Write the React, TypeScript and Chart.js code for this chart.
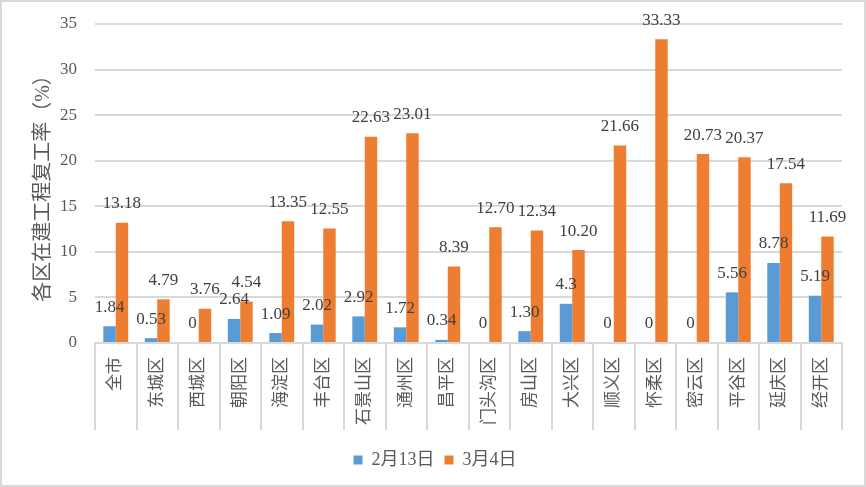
import React, { useEffect, useRef } from "react";
import { Chart, registerables } from "chart.js";

Chart.register(...registerables);

const categories = ["全市", "东城区", "西城区", "朝阳区", "海淀区", "丰台区", "石景山区", "通州区", "昌平区", "门头沟区", "房山区", "大兴区", "顺义区", "怀柔区", "密云区", "平谷区", "延庆区", "经开区"];
const seriesNames = ["2月13日", "3月4日"];
const feb13 = [1.84, 0.53, 0, 2.64, 1.09, 2.02, 2.92, 1.72, 0.34, 0, 1.3, 4.3, 0, 0, 0, 5.56, 8.78, 5.19];
const mar4 = [13.18, 4.79, 3.76, 4.54, 13.35, 12.55, 22.63, 23.01, 8.39, 12.7, 12.34, 10.2, 21.66, 33.33, 20.73, 20.37, 17.54, 11.69];
const feb13Labels = ["1.84", "0.53", "0", "2.64", "1.09", "2.02", "2.92", "1.72", "0.34", "0", "1.30", "4.3", "0", "0", "0", "5.56", "8.78", "5.19"];
const mar4Labels = ["13.18", "4.79", "3.76", "4.54", "13.35", "12.55", "22.63", "23.01", "8.39", "12.70", "12.34", "10.20", "21.66", "33.33", "20.73", "20.37", "17.54", "11.69"];
const yTitle = "各区在建工程复工率（%）";

const FONT = "'Liberation Serif', 'Noto Sans CJK SC', serif";

const bgBorder = {
  id: "bgBorder",
  beforeDraw(chart: any) {
    const { ctx, width, height } = chart;
    ctx.save();
    ctx.fillStyle = "#ffffff";
    ctx.fillRect(0, 0, width, height);
    ctx.strokeStyle = "#d9d9d9";
    ctx.lineWidth = 2;
    ctx.strokeRect(1, 1, width - 2, height - 2);
    ctx.restore();
  },
};

const dataLabels = {
  id: "dataLabelsCustom",
  afterDatasetsDraw(chart: any) {
    const { ctx } = chart;
    const labelSets = [feb13Labels, mar4Labels];
    ctx.save();
    ctx.font = `17px ${FONT}`;
    ctx.fillStyle = "#404040";
    ctx.textAlign = "center";
    ctx.textBaseline = "middle";
    chart.data.datasets.forEach((_ds: any, di: number) => {
      const meta = chart.getDatasetMeta(di);
      meta.data.forEach((bar: any, i: number) => {
        ctx.fillText(labelSets[di][i], bar.x, bar.y - 19);
      });
    });
    ctx.restore();
  },
};

export default function App() {
  const ref = useRef<HTMLCanvasElement>(null);
  useEffect(() => {
    document.body.style.margin = "0";
    const chart = new Chart(ref.current!, {
      type: "bar",
      data: {
        labels: categories,
        datasets: [
          { label: seriesNames[0], data: feb13, backgroundColor: "#5B9BD5", barPercentage: 1, categoryPercentage: 0.6 },
          { label: seriesNames[1], data: mar4, backgroundColor: "#ED7D31", barPercentage: 1, categoryPercentage: 0.6 },
        ],
      },
      options: {
        animation: false,
        responsive: false,
        maintainAspectRatio: false,
        layout: { padding: { top: 24, right: 24, left: 28, bottom: 8 } },
        plugins: {
          tooltip: { enabled: false },
          legend: {
            position: "bottom",
            labels: {
              font: { family: FONT, size: 18 },
              color: "#595959",
              boxWidth: 9,
              boxHeight: 9,
              padding: 10,
            },
          },
        },
        scales: {
          x: {
            grid: {
              display: true,
              offset: true,
              drawOnChartArea: false,
              drawTicks: true,
              tickLength: 87,
              color: "#d9d9d9",
              lineWidth: 2,
            },
            border: { display: true, color: "#d9d9d9", width: 2 },
            ticks: {
              minRotation: 90,
              maxRotation: 90,
              autoSkip: false,
              padding: -73,
              color: "#595959",
              font: { family: FONT, size: 17 },
            },
            afterFit(scale: any) {
              scale.height = 98;
            },
          },
          y: {
            min: 0,
            max: 35,
            ticks: {
              stepSize: 5,
              padding: 0,
              color: "#595959",
              font: { family: FONT, size: 17 },
            },
            grid: { color: "#d9d9d9", lineWidth: 2, drawTicks: true, tickLength: 18, tickColor: "rgba(0,0,0,0)" },
            border: { display: false },
            title: {
              display: true,
              text: yTitle,
              color: "#595959",
              font: { family: FONT, size: 20 },
              padding: { top: 4, bottom: 0 },
            },
            afterFit(scale: any) {
              scale.width = 67;
            },
          },
        },
      },
      plugins: [bgBorder, dataLabels],
    });
    return () => chart.destroy();
  }, []);
  return (
    <div style={{ width: 866, height: 487 }}>
      <canvas ref={ref} width={866} height={487} style={{ display: "block" }} />
    </div>
  );
}
